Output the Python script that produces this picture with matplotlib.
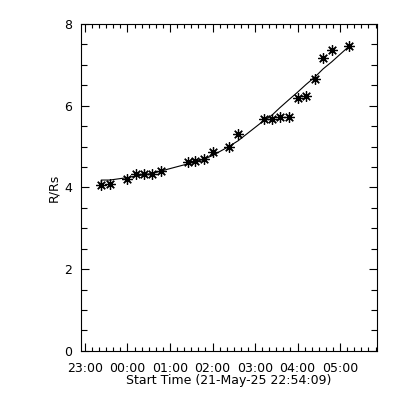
import matplotlib
matplotlib.use("Agg")
import matplotlib.pyplot as plt
import matplotlib.dates as mdates
import pandas as pd

# CME height-time points (R/Rs)
obs_time = ["2025-05-21 23:23", "2025-05-21 23:35", "2025-05-22 00:00",
            "2025-05-22 00:12", "2025-05-22 00:23", "2025-05-22 00:35",
            "2025-05-22 00:47", "2025-05-22 01:26", "2025-05-22 01:35",
            "2025-05-22 01:48", "2025-05-22 02:00", "2025-05-22 02:23",
            "2025-05-22 02:36", "2025-05-22 03:12", "2025-05-22 03:24",
            "2025-05-22 03:35", "2025-05-22 03:48", "2025-05-22 04:00",
            "2025-05-22 04:12", "2025-05-22 04:25", "2025-05-22 04:36",
            "2025-05-22 04:48", "2025-05-22 05:13"]
height_rs = [4.06, 4.08, 4.20, 4.33, 4.33, 4.34, 4.41, 4.61, 4.65, 4.69,
             4.87, 4.99, 5.30, 5.67, 5.67, 5.73, 5.73, 6.20, 6.24, 6.65,
             7.16, 7.36, 7.46]
# fitted curve as drawn (starts at the first measured point)
fit_rs = [4.18, 4.18, 4.24, 4.28, 4.31, 4.34, 4.40, 4.58, 4.63, 4.69,
          4.78, 5.00, 5.14, 5.63, 5.77, 5.95, 6.15, 6.33, 6.52, 6.71,
          6.90, 7.07, 7.46]

start_label = "Start Time (21-May-25 22:54:09)"
x_start = "2025-05-21 22:54:09"
x_end = "2025-05-22 05:51:50"

t = pd.to_datetime(obs_time)
fit_t = [t[0]] + list(t)
fit_y = [height_rs[0]] + fit_rs

plt.rcParams["font.family"] = "DejaVu Sans"
plt.rcParams["font.size"] = 9

fig = plt.figure(figsize=(4, 4), dpi=100)
ax = fig.add_axes([0.202, 0.123, 0.74, 0.817])

ax.plot(fit_t, fit_y, color="black", lw=0.8)
ax.plot(t, height_rs, linestyle="none", marker=(8, 2, 0), ms=7.5,
        mec="black", mew=0.9, color="black")

ax.set_xlim(pd.Timestamp(x_start), pd.Timestamp(x_end))
ax.set_ylim(0, 8)

ax.xaxis.set_major_locator(mdates.HourLocator())
ax.xaxis.set_minor_locator(mdates.MinuteLocator(byminute=range(0, 60, 10)))
ax.xaxis.set_major_formatter(mdates.DateFormatter("%H:%M"))
ax.set_yticks([0, 2, 4, 6, 8])
ax.set_yticks([0.5 * i for i in range(17)], minor=True)

ax.tick_params(which="both", direction="in", top=True, right=True,
               width=0.8, colors="black", labelsize=9)
ax.tick_params(axis="x", which="major", length=6, pad=8)
ax.tick_params(axis="x", which="minor", length=3)
ax.tick_params(axis="y", which="major", length=6, pad=6)
ax.tick_params(axis="y", which="minor", length=4)
for s in ax.spines.values():
    s.set_linewidth(0.8)

ax.set_xlabel(start_label, labelpad=-1)
ax.set_ylabel("R/Rs", labelpad=3)

fig.savefig("out.png", dpi=100)
